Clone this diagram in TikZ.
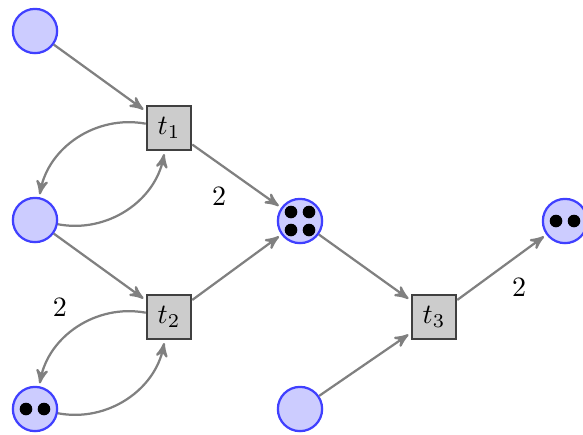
\documentclass[tikz,border=0pt]{standalone}
\usetikzlibrary{arrows}
\begin{document}
\begin{tikzpicture}[x=0.357pt,y=-0.357pt,
  place/.style={circle,thick,draw=blue!75,fill=blue!20,minimum size=15.8pt,inner sep=0pt},
  transition/.style={rectangle,thick,draw=black!75,fill=black!20,minimum size=15.8pt,inner sep=0pt},
  token/.style={circle,fill=black,inner sep=0pt,minimum size=4.5pt},
  arc/.style={->,>=stealth',thick,draw=black!50,shorten >=1pt},
  bend angle=45, auto]
\useasboundingbox (0,0) rectangle (583,434);

% places
\node[place] (p1) at (35,31) {};
\node[place] (p2) at (35,220) {};
\node[place] (p3) at (35,409) {};
\node[place] (p4) at (300,221) {};
\node[place] (p5) at (300,409) {};
\node[place] (p6) at (565,221) {};

% tokens
\node[token] (p3a) at ([shift={(-9,0)}]p3) {};
\node[token] (p3b) at ([shift={(9,0)}]p3) {};
\node[token] (p4a) at ([shift={(-9,-9)}]p4) {};
\node[token] (p4b) at ([shift={(9,-9)}]p4) {};
\node[token] (p4c) at ([shift={(-9,9)}]p4) {};
\node[token] (p4d) at ([shift={(9,9)}]p4) {};
\node[token] (p6a) at ([shift={(-9,0)}]p6) {};
\node[token] (p6b) at ([shift={(9,0)}]p6) {};

% transitions
\node[transition] (t1) at (169,128) {$t_1$};
\node[transition] (t2) at (169,317) {$t_2$};
\node[transition] (t3) at (434,317) {$t_3$};

% arcs
\draw[arc] (p1) -- (t1);
\draw[arc] (t1) to[bend right] (p2);
\draw[arc] (p2) to[bend right] (t1);
\draw[arc] (t1) -- node[swap] (w1) {2} (p4);

\draw[arc] (p2) -- (t2);
\draw[arc] (t2) to[bend right] node[swap] (w2) {2} (p3);
\draw[arc] (p3) to[bend right] (t2);
\draw[arc] (t2) -- (p4);

\draw[arc] (p4) -- (t3);
\draw[arc] (p5) -- (t3);
\draw[arc] (t3) -- node[swap] (w3) {2} (p6);
\end{tikzpicture}
\end{document}
